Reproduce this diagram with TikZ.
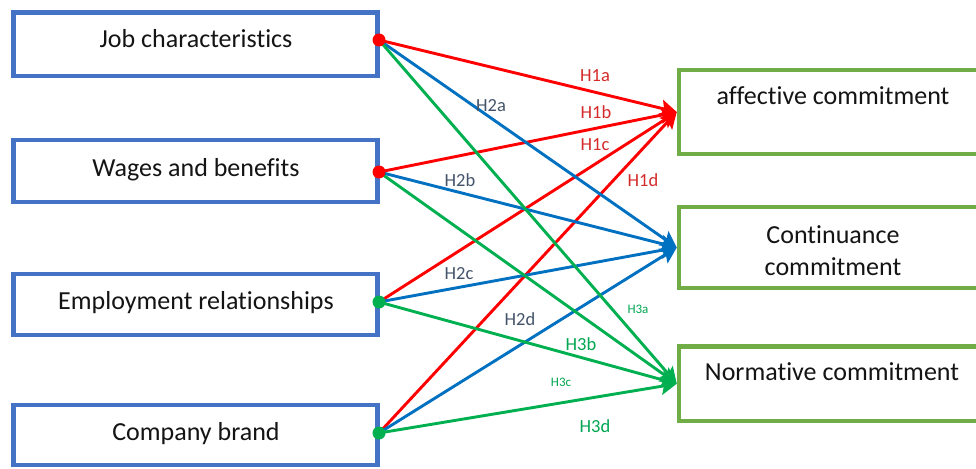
\documentclass[tikz,border=0pt]{standalone}
\usepackage{fontspec}
\setmainfont[Ligatures={NoCommon}]{Carlito}
\usetikzlibrary{arrows.meta}
\definecolor{boxblue}{HTML}{4472C4}
\definecolor{boxgreen}{HTML}{70AD47}
\definecolor{lred}{HTML}{FF0000}
\definecolor{lblue}{HTML}{0070C0}
\definecolor{lgreen}{HTML}{00B050}
\definecolor{tred}{HTML}{D42A2A}
\definecolor{tgray}{HTML}{44546A}
\definecolor{tgreen}{HTML}{00A651}
\pgfdeclarelayer{back}
\pgfdeclarelayer{bg}
\pgfsetlayers{back,bg,main}
\begin{document}
\begin{tikzpicture}[x=1pt,y=-1pt,
  lbox/.style={draw=boxblue,line width=4.5pt,minimum width=364pt,inner sep=0pt},
  rbox/.style={draw=boxgreen,line width=4.5pt,minimum width=311pt,inner sep=0pt},
  btext/.style={anchor=base,font=\fontsize{26}{32}\selectfont,text=black!92,inner sep=0pt},
  hlab/.style={anchor=base,font=\fontsize{18.5}{22}\selectfont,inner sep=0pt},
  slab/.style={anchor=base,font=\fontsize{13}{16}\selectfont,inner sep=0pt},
  conn/.style={line width=2.9pt,-{Stealth[length=16pt,width=17pt,inset=3pt]}},
  srcdot/.style={circle,inner sep=0pt,minimum size=13pt}
]
\useasboundingbox (0,0) rectangle (976,468);
\begin{pgfonlayer}{back}
\fill[white] (0,0) rectangle (976,468);
\end{pgfonlayer}

% left boxes
\node[lbox,minimum height=63.5pt] (jc) at (195.5,44.25) {};
\node[lbox,minimum height=62pt]   (wb) at (195.5,171) {};
\node[lbox,minimum height=61pt]   (er) at (195.5,304.5) {};
\node[lbox,minimum height=60pt]   (cb) at (195.5,435) {};
\node[btext] (tjc) at (196,48) {Job characteristics};
\node[btext] (twb) at (196,176) {Wages and benefits};
\node[btext] (ter) at (196,309) {Employment relationships};
\node[btext] (tcb) at (196,440) {Company brand};

% right boxes
\node[rbox,minimum height=84pt] (ac) at (834.5,112) {};
\node[rbox,minimum height=81pt] (cc) at (834.5,247.5) {};
\node[rbox,minimum height=74.5pt] (nc) at (834.5,383.75) {};
\node[btext] (tac) at (833,105) {affective commitment};
\node[btext] (tcc1) at (833,243) {Continuance};
\node[btext] (tcc2) at (833,275) {commitment};
\node[btext] (tnc) at (832,380) {Normative commitment};

% source dots
\node[srcdot,fill=lred]   (d1) at (379,40) {};
\node[srcdot,fill=lred]   (d2) at (379,172) {};
\node[srcdot,fill=lgreen] (d3) at (379,302) {};
\node[srcdot,fill=lgreen] (d4) at (379,433) {};

% connectors
\begin{pgfonlayer}{bg}
\draw[conn,lred] (d1.center) -- (ac.west);
\draw[conn,lred] (d2.center) -- (ac.west);
\draw[conn,lred] (d3.center) -- (ac.west);
\draw[conn,lred] (d4.center) -- (ac.west);
\draw[conn,lblue] (d1.center) -- (cc.west);
\draw[conn,lblue] (d2.center) -- (cc.west);
\draw[conn,lblue] (d3.center) -- (cc.west);
\draw[conn,lblue] (d4.center) -- (cc.west);
\draw[conn,lgreen] (d1.center) -- (nc.west);
\draw[conn,lgreen] (d2.center) -- (nc.west);
\draw[conn,lgreen] (d3.center) -- (nc.west);
\draw[conn,lgreen] (d4.center) -- (nc.west);
\end{pgfonlayer}

% labels
\node[hlab,text=tred] (h1a) at (595,82) {H1a};
\node[hlab,text=tred] (h1b) at (596,118) {H1b};
\node[hlab,text=tred] (h1c) at (595,150) {H1c};
\node[hlab,text=tred] (h1d) at (643,186) {H1d};
\node[hlab,text=tgray] (h2a) at (491,112) {H2a};
\node[hlab,text=tgray] (h2b) at (460,186) {H2b};
\node[hlab,text=tgray] (h2c) at (459,279) {H2c};
\node[hlab,text=tgray] (h2d) at (520,325) {H2d};
\node[slab,text=tgreen] (h3a) at (638,313) {H3a};
\node[hlab,text=tgreen] (h3b) at (581,350) {H3b};
\node[slab,text=tgreen] (h3c) at (561,386) {H3c};
\node[hlab,text=tgreen] (h3d) at (595,432) {H3d};
\end{tikzpicture}
\end{document}
